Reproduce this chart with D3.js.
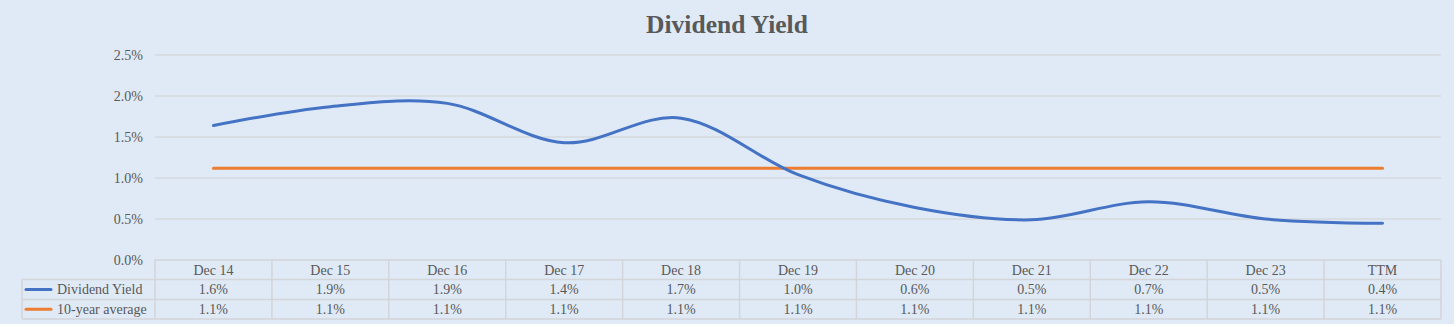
<!DOCTYPE html>
<html><head><meta charset="utf-8">
<script src="https://cdn.jsdelivr.net/npm/d3@7"></script>
<style>html,body{margin:0;padding:0;background:#fff;}svg{display:block;}</style>
</head><body>
<script>
const categories = ["Dec 14","Dec 15","Dec 16","Dec 17","Dec 18","Dec 19","Dec 20","Dec 21","Dec 22","Dec 23","TTM"];
const dividendYield = [1.64,1.87,1.91,1.43,1.73,1.04,0.64,0.49,0.71,0.50,0.448];
const tenYearAverage = [1.12,1.12,1.12,1.12,1.12,1.12,1.12,1.12,1.12,1.12,1.12];
const yTicks = [0,0.5,1.0,1.5,2.0,2.5];
const seriesNames = ["Dividend Yield","10-year average"];
const title = "Dividend Yield";

const W = 1456, H = 327;
const svg = d3.select("body").append("svg").attr("width", W).attr("height", H);
svg.append("rect").attr("x",0).attr("y",0).attr("width",1454).attr("height",324).attr("fill","#dfeaf6");

const font = "'Liberation Serif','Times New Roman',serif";
const textCol = "#595959";
const x = d3.scaleBand().domain(categories).range([155,1441]);
const cx = c => x(c) + x.bandwidth()/2;
const y = d3.scaleLinear().domain([0,2.5]).range([260,55]);

// title
svg.append("text").attr("x",727).attr("y",33).attr("text-anchor","middle")
  .attr("font-family",font).attr("font-weight","bold").attr("font-size",25.5)
  .attr("fill",textCol).text(title);

// gridlines
svg.append("g").selectAll("line").data(yTicks.filter(d=>d>0)).join("line")
  .attr("x1",155).attr("x2",1441).attr("y1",d=>y(d)).attr("y2",d=>y(d))
  .attr("stroke","#d6d9dc").attr("stroke-width",1.5);

// y axis labels
svg.append("g").selectAll("text").data(yTicks).join("text")
  .attr("x",143).attr("y",d=>y(d)).attr("dy","0.35em").attr("text-anchor","end")
  .attr("font-family",font).attr("font-size",14).attr("fill",textCol)
  .text(d=>d3.format(".1f")(d)+"%");

// lines
const series = [{name:seriesNames[0], vals:dividendYield, color:"#4472c4"},
                {name:seriesNames[1], vals:tenYearAverage, color:"#ed7d31"}];
const lineSmooth = d3.line().x((d,i)=>cx(categories[i])).y(d=>y(d)).curve(d3.curveCardinal.tension(0));
const lineStraight = d3.line().x((d,i)=>cx(categories[i])).y(d=>y(d));
svg.append("path").attr("d",lineStraight(tenYearAverage)).attr("fill","none")
  .attr("stroke",series[1].color).attr("stroke-width",3).attr("stroke-linecap","round");
svg.append("path").attr("d",lineSmooth(dividendYield)).attr("fill","none")
  .attr("stroke",series[0].color).attr("stroke-width",3).attr("stroke-linecap","round");

// data table
const rows = [260, 279.5, 299.5, 319];
const bc = "#d3d5d8";
const tg = svg.append("g");
tg.append("line").attr("x1",155).attr("x2",1441).attr("y1",rows[0]).attr("y2",rows[0]).attr("stroke",bc).attr("stroke-width",1.5);
[1,2,3].forEach(r=>tg.append("line").attr("x1",22).attr("x2",1441).attr("y1",rows[r]).attr("y2",rows[r]).attr("stroke",bc).attr("stroke-width",1.5));
const bounds = categories.map(c=>x(c)).concat([1441]);
tg.selectAll("line.v").data(bounds).join("line").attr("class","v")
  .attr("x1",d=>d).attr("x2",d=>d).attr("y1",rows[0]).attr("y2",rows[3]).attr("stroke",bc).attr("stroke-width",1.5);
tg.append("line").attr("x1",22).attr("x2",22).attr("y1",rows[1]).attr("y2",rows[3]).attr("stroke",bc).attr("stroke-width",1.5);

tg.selectAll("text.h").data(categories).join("text").attr("class","h")
  .attr("x",d=>cx(d)).attr("y",(rows[0]+rows[1])/2).attr("dy","0.35em").attr("text-anchor","middle")
  .attr("font-family",font).attr("font-size",14).attr("fill",textCol).text(d=>d);

series.forEach((s,si)=>{
  const yc = (rows[si+1]+rows[si+2])/2;
  tg.append("line").attr("x1",26).attr("x2",51).attr("y1",yc).attr("y2",yc)
    .attr("stroke",s.color).attr("stroke-width",3).attr("stroke-linecap","round");
  tg.append("text").attr("x",57).attr("y",yc).attr("dy","0.35em")
    .attr("font-family",font).attr("font-size",14).attr("fill",textCol).text(s.name);
  tg.selectAll("text.v"+si).data(s.vals).join("text").attr("class","v"+si)
    .attr("x",(d,i)=>cx(categories[i])).attr("y",yc).attr("dy","0.35em").attr("text-anchor","middle")
    .attr("font-family",font).attr("font-size",14).attr("fill",textCol)
    .text(d=>d3.format(".1f")(d)+"%");
});
</script>
</body></html>
